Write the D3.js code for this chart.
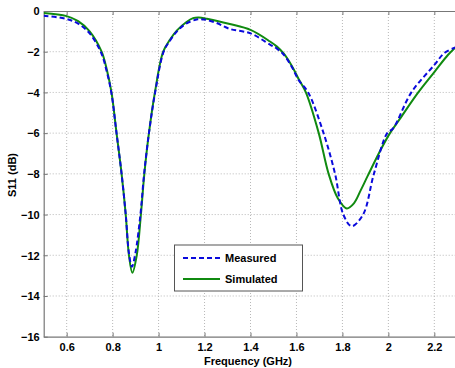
<!DOCTYPE html>
<html><head><meta charset="utf-8">
<script src="https://cdn.jsdelivr.net/npm/d3@7"></script>
<style>
body{margin:0;background:#fff;}
text{font-family:"Liberation Sans",Arial,sans-serif;}
</style></head>
<body><svg id="c" width="455" height="368"></svg>
<script>
const xTicks=[0.6,0.8,1,1.2,1.4,1.6,1.8,2,2.2];
const yTicks=[0,-2,-4,-6,-8,-10,-12,-14,-16];
const seriesNames=["Measured","Simulated"];
const measuredF=[0.50,0.60,0.65,0.70,0.75,0.775,0.795,0.817,0.839,0.857,0.871,0.884,0.899,0.921,0.937,0.958,0.985,1.022,1.05,1.08,1.12,1.17,1.20,1.25,1.31,1.40,1.485,1.515,1.545,1.58,1.61,1.651,1.718,1.768,1.804,1.84,1.89,1.937,1.995,2.021,2.10,2.20,2.245,2.29,2.30];
const measuredDb=[-0.23,-0.39,-0.62,-1.1,-2.05,-3.0,-4.05,-6.0,-8.0,-10.0,-11.9,-12.56,-11.9,-10.0,-8.0,-6.0,-4.0,-2.0,-1.45,-1.0,-0.62,-0.41,-0.42,-0.58,-0.88,-1.1,-1.65,-1.85,-2.15,-2.75,-3.4,-4.0,-6.0,-8.0,-10.0,-10.57,-10.0,-8.0,-6.0,-5.76,-4.0,-2.65,-2.05,-1.8,-1.75];
const simulatedF=[0.50,0.60,0.65,0.70,0.752,0.775,0.795,0.817,0.839,0.857,0.871,0.886,0.905,0.923,0.938,0.958,0.984,1.02,1.05,1.08,1.12,1.15,1.175,1.21,1.31,1.40,1.485,1.515,1.545,1.58,1.61,1.641,1.697,1.74,1.78,1.819,1.85,1.88,1.91,1.966,2.007,2.05,2.13,2.20,2.26,2.30];
const simulatedDb=[-0.10,-0.25,-0.5,-1.0,-2.0,-2.9,-4.0,-6.0,-8.0,-10.0,-12.0,-12.86,-12.0,-10.0,-8.0,-6.0,-4.0,-2.0,-1.4,-0.95,-0.55,-0.35,-0.32,-0.38,-0.64,-0.93,-1.5,-1.75,-2.1,-2.7,-3.35,-4.0,-6.0,-8.0,-9.2,-9.7,-9.45,-8.8,-8.1,-6.83,-6.0,-5.3,-4.0,-3.0,-2.15,-1.7];

const svg=d3.select("#c");
const L=43.7,R=457.3,T=11,B=336.7;
const x=d3.scaleLinear().domain([0.5,2.3]).range([L,R]);
const y=d3.scaleLinear().domain([-16,0]).range([B,T]);

// grid
const g=svg.append("g");
g.selectAll(".vg").data(xTicks).enter().append("line")
 .attr("x1",d=>x(d)).attr("x2",d=>x(d)).attr("y1",T).attr("y2",B)
 .attr("stroke","#b8b8b8").attr("stroke-width",1).attr("stroke-dasharray","1,2");
g.selectAll(".hg").data(yTicks.filter(d=>d!==0&&d!==-16)).enter().append("line")
 .attr("x1",L).attr("x2",R).attr("y1",d=>y(d)).attr("y2",d=>y(d))
 .attr("stroke","#b8b8b8").attr("stroke-width",1).attr("stroke-dasharray","1,2");

// axes
const xa=svg.append("g").attr("transform",`translate(0,${B})`)
 .call(d3.axisBottom(x).tickValues(xTicks).tickSizeInner(-4).tickSizeOuter(0).tickPadding(7).tickFormat(d3.format("~g")));
const xt=svg.append("g").attr("transform",`translate(0,${T})`)
 .call(d3.axisTop(x).tickValues(xTicks).tickSizeInner(-4).tickSizeOuter(0).tickFormat(""));
const ya=svg.append("g").attr("transform",`translate(${L},0)`)
 .call(d3.axisLeft(y).tickValues(yTicks).tickSizeInner(-4).tickSizeOuter(0).tickPadding(4).tickFormat(d3.format("d")));
[xa,xt,ya].forEach(a=>{
 a.select(".domain").attr("stroke","#777").attr("stroke-width",1.2);
 a.selectAll(".tick line").attr("stroke","#777");
 a.selectAll("text").attr("fill","#000").style("font-size","11px").style("font-weight","bold").style("font-family","'Liberation Sans',Arial,sans-serif");
});
ya.selectAll("text").attr("dy","0.35em");

// lines
const line=d3.line().x(d=>x(d[0])).y(d=>y(d[1])).curve(d3.curveCatmullRom.alpha(0.5));
svg.append("clipPath").attr("id","cp").append("rect").attr("x",L).attr("y",T-3).attr("width",R-L).attr("height",B-T+3);
svg.append("path").datum(simulatedF.map((f,i)=>[f,simulatedDb[i]])).attr("d",line)
 .attr("fill","none").attr("stroke","#108a10").attr("stroke-width",2).attr("clip-path","url(#cp)");
svg.append("path").datum(measuredF.map((f,i)=>[f,measuredDb[i]])).attr("d",line)
 .attr("fill","none").attr("stroke","#0a0adc").attr("stroke-width",2).attr("stroke-dasharray","5,3").attr("clip-path","url(#cp)");

// labels
svg.append("text").attr("x",248).attr("y",365).attr("text-anchor","middle")
 .style("font-size","11px").style("font-weight","bold").text("Frequency (GHz)");
svg.append("text").attr("transform","translate(16,175) rotate(-90)").attr("text-anchor","middle")
 .style("font-size","11px").style("font-weight","bold").text("S11 (dB)");

// legend
const lg=svg.append("g");
lg.append("rect").attr("x",174.5).attr("y",245).attr("width",128).attr("height",46)
 .attr("fill","#fff").attr("stroke","#555").attr("stroke-width",1);
lg.append("line").attr("x1",183).attr("x2",220).attr("y1",258).attr("y2",258)
 .attr("stroke","#0a0adc").attr("stroke-width",2).attr("stroke-dasharray","5,3");
lg.append("line").attr("x1",183).attr("x2",220).attr("y1",279).attr("y2",279)
 .attr("stroke","#108a10").attr("stroke-width",2);
lg.append("text").attr("x",225).attr("y",262).style("font-size","11px").style("font-weight","bold").text(seriesNames[0]);
lg.append("text").attr("x",225).attr("y",283).style("font-size","11px").style("font-weight","bold").text(seriesNames[1]);
</script></body></html>
